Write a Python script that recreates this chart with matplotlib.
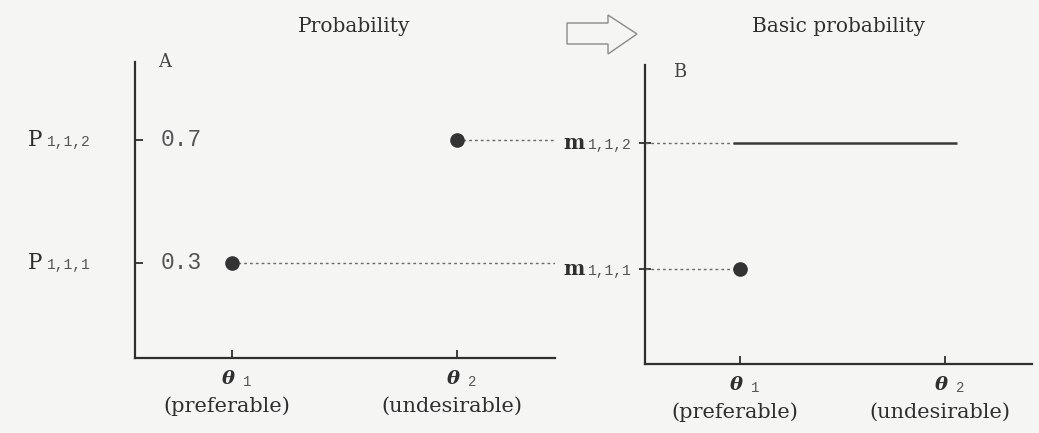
import matplotlib
matplotlib.use("Agg")
import matplotlib.pyplot as plt
from matplotlib.patches import Polygon

# --- data -------------------------------------------------------------
states = ["θ", "θ"]
state_idx = ["1", "2"]
state_pos = [1, 2]
state_notes = ["(preferable)", "(undesirable)"]

prob_values = [0.3, 0.7]                 # P(theta_1), P(theta_2)
prob_tick_text = ["0.3", "0.7"]
prob_symbols = ["1,1,1", "1,1,2"]

mass_single = 0.3                        # m on {theta_1}
mass_pair = 0.7                          # m on {theta_1, theta_2}
mass_symbols = ["1,1,1", "1,1,2"]

titles = ["Probability", "Basic probability"]
panel_tags = ["A", "B"]

# --- style ------------------------------------------------------------
W, H = 1039, 433
BG = "#f5f5f4"
INK = "#2f2f2f"
SOFT = "#555555"
DOT = "#6a6a6a"
SERIF = "DejaVu Serif"
MONO = "Liberation Mono"

fig = plt.figure(figsize=(W / 100, H / 100), dpi=100, facecolor=BG)


def px_axes(left, top, right, bottom):
    return fig.add_axes([left / W, 1 - bottom / H, (right - left) / W, (bottom - top) / H])


ax_a = px_axes(135, 62, 555, 358)
ax_b = px_axes(645, 65, 1032, 364)

ax_a.set_xlim(0.569, 2.436)
ax_a.set_ylim(-0.01, 0.953)
ax_b.set_xlim(0.537, 2.424)
ax_b.set_ylim(0.0, 0.948)

for ax in (ax_a, ax_b):
    ax.set_facecolor("none")
    for side in ("top", "right"):
        ax.spines[side].set_visible(False)
    for side in ("left", "bottom"):
        ax.spines[side].set_linewidth(1.6)
        ax.spines[side].set_color(INK)
    ax.set_xticks(state_pos)
    ax.set_xticklabels([])
    ax.set_yticks(prob_values)
    ax.set_yticklabels([])
    ax.tick_params(axis="x", direction="in", length=6, width=1.3, color=INK)
    ax.tick_params(axis="y", direction="in", length=6, width=1.3, color=INK)
    # state labels under the x axis
    xt = ax.get_xaxis_transform()
    for x, s, i, note in zip(state_pos, states, state_idx, state_notes):
        ax.annotate(s, xy=(x, 0), xycoords=xt, xytext=(-4, -21), textcoords="offset pixels",
                    ha="center", va="center", fontsize=14, family=SERIF, style="italic",
                    weight="bold", color=INK)
        ax.annotate(i, xy=(x, 0), xycoords=xt, xytext=(11, -28), textcoords="offset pixels",
                    ha="left", va="baseline", fontsize=10, family=MONO, color=SOFT)
        ax.annotate(note, xy=(x, 0), xycoords=xt, xytext=(-5, -48), textcoords="offset pixels",
                    ha="center", va="center", fontsize=15, family=SERIF, color=INK)

ax_b.tick_params(axis="y", direction="inout", length=9)

# --- panel A: ordinary probabilities ------------------------------------
yt_a = ax_a.get_yaxis_transform()
for y, lab, sym in zip(prob_values, prob_tick_text, prob_symbols):
    ax_a.annotate(lab, xy=(0, y), xycoords=yt_a, xytext=(26, 0), textcoords="offset pixels",
                  ha="left", va="center", fontsize=16.5, family=MONO, color=SOFT)
    ax_a.annotate("P", xy=(0, y), xycoords=yt_a, xytext=(-107, -6), textcoords="offset pixels",
                  ha="left", va="baseline", fontsize=15.5, family=SERIF, color=INK)
    ax_a.annotate(sym, xy=(0, y), xycoords=yt_a, xytext=(-88, -6), textcoords="offset pixels",
                  ha="left", va="baseline", fontsize=10.5, family=MONO, color=SOFT)

ax_a.plot(state_pos, prob_values, "o", ms=9.5, color="#333333", zorder=3)
x_end_a = ax_a.get_xlim()[1]
ax_a.hlines(prob_values, state_pos, x_end_a, colors=DOT, lw=1.0, linestyles=(0, (2, 2.2)))

ax_a.text(0.07, 1.0, panel_tags[0], transform=ax_a.transAxes, ha="center", va="center",
          fontsize=13, family=SERIF, color="#444444")

# --- panel B: basic probability assignment -------------------------------
yt_b = ax_b.get_yaxis_transform()
for y, sym in zip([mass_single, mass_pair], mass_symbols):
    ax_b.annotate("m", xy=(0, y), xycoords=yt_b, xytext=(-82, -6), textcoords="offset pixels",
                  ha="left", va="baseline", fontsize=14.5, family=SERIF, weight="bold", color=INK)
    ax_b.annotate(sym, xy=(0, y), xycoords=yt_b, xytext=(-57, -6), textcoords="offset pixels",
                  ha="left", va="baseline", fontsize=10.5, family=MONO, color=SOFT)

x_start_b = ax_b.get_xlim()[0]
pair_span = (state_pos[0] - 0.035, state_pos[1] + 0.06)
ax_b.hlines(mass_pair, x_start_b, pair_span[0], colors=DOT, lw=1.0, linestyles=(0, (2, 2.2)))
ax_b.hlines(mass_pair, pair_span[0], pair_span[1], colors="#3a3a3a", lw=1.8)
ax_b.hlines(mass_single, x_start_b, state_pos[0], colors=DOT, lw=1.0, linestyles=(0, (2, 2.2)))
ax_b.plot([state_pos[0]], [mass_single], "o", ms=9.5, color="#333333", zorder=3)

ax_b.text(0.09, 0.975, panel_tags[1], transform=ax_b.transAxes, ha="center", va="center",
          fontsize=13, family=SERIF, color="#444444")

# --- titles and transition arrow ------------------------------------------
fig.text(354 / W, 1 - 26 / H, titles[0], ha="center", va="center", fontsize=14.5,
         family=SERIF, color=INK)
fig.text(838 / W, 1 - 27 / H, titles[1], ha="center", va="center", fontsize=14.5,
         family=SERIF, color=INK)

arrow_px = [(567, 23), (608, 23), (608, 15), (637, 34), (608, 54), (608, 44), (567, 44)]
fig.patches.append(Polygon([(x / W, 1 - y / H) for x, y in arrow_px], closed=True,
                           transform=fig.transFigure, facecolor="none",
                           edgecolor="#8a8a8a", lw=1.0))

fig.savefig("out.png", dpi=100, facecolor=BG)
